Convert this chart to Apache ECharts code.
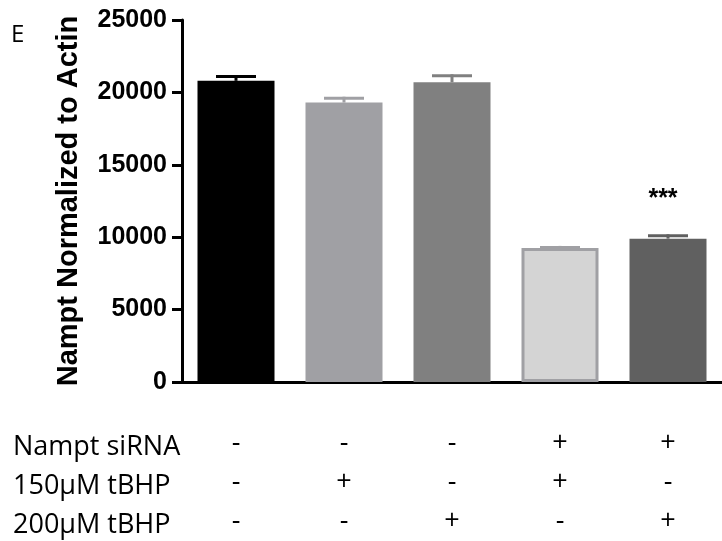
<html>
  <head>
    <meta charset="utf-8" />
    <title>Nampt</title>
    <script src="https://cdn.jsdelivr.net/npm/echarts@6/dist/echarts.min.js"></script>
  </head>
  <body style="margin:0">
    <div id="main" style="width:722px;height:541px;"></div>
    <script type="text/javascript">
      // groups / values
      var groups = ['ctrl', '150 tBHP', '200 tBHP', 'si + 150 tBHP', 'si + 200 tBHP'];
      var means = [20800, 19300, 20700, 9250, 9900];
      var sem = [400, 400, 550, 150, 300];
      var stars = ['', '', '', '', '***'];
      var barColors = ['#000000', '#a0a0a4', '#808080', '#d4d4d4', '#606060'];
      var errColors = ['#000000', '#a0a0a4', '#808080', '#a0a0a4', '#606060'];
      // treatment table under the axis
      var rowNames = ['Nampt siRNA', '150µM tBHP', '200µM tBHP'];
      var siRNA = ['-', '-', '-', '+', '+'];
      var tbhp150 = ['-', '+', '-', '+', '-'];
      var tbhp200 = ['-', '-', '+', '-', '+'];

      var myChart = echarts.init(document.getElementById('main'));

      var barData = means.map(function (m, i) {
        var item = { value: m, itemStyle: { color: barColors[i] } };
        if (i === 3) {
          item.itemStyle.borderColor = '#a0a0a4';
          item.itemStyle.borderWidth = 3;
        }
        return item;
      });

      var option = {
        animation: false,
        title: [
          {
            text: 'E', left: 11, top: 23, padding: 0,
            textStyle: { fontFamily: 'Open Sans', fontWeight: 'normal', fontSize: 24, color: '#000' }
          },
          {
            text: rowNames.join('\n'), left: 13, top: 428, padding: 0,
            textStyle: { fontFamily: 'Open Sans', fontWeight: 'normal', fontSize: 27, lineHeight: 39, color: '#000' }
          }
        ],
        grid: { left: 182, top: 20, width: 544, height: 362 },
        xAxis: {
          type: 'category',
          data: groups,
          axisLine: { lineStyle: { color: '#000', width: 3 } },
          axisTick: { alignWithLabel: true, length: 13, lineStyle: { color: '#000', width: 3 } },
          axisLabel: {
            interval: 0,
            margin: 42,
            color: '#000',
            fontFamily: 'Open Sans',
            fontSize: 27,
            lineHeight: 39,
            formatter: function (v, i) {
              return [siRNA[i], tbhp150[i], tbhp200[i]].join('\n');
            }
          }
        },
        yAxis: {
          type: 'value',
          min: 0,
          max: 25000,
          interval: 5000,
          name: 'Nampt Normalized to Actin',
          nameLocation: 'middle',
          nameRotate: 90,
          nameGap: 99,
          nameTextStyle: { fontFamily: 'Liberation Sans', fontWeight: 'bold', fontSize: 29, color: '#000' },
          axisLine: { show: true, lineStyle: { color: '#000', width: 3 } },
          axisTick: { show: true, length: 10, lineStyle: { color: '#000', width: 3 } },
          axisLabel: {
            margin: 15, color: '#000', fontFamily: 'Liberation Sans', fontWeight: 'bold', fontSize: 25,
            formatter: function (v) { return String(v); }
          },
          splitLine: { show: false }
        },
        series: [
          {
            type: 'bar',
            barWidth: 77,
            data: barData
          },
          {
            type: 'custom',
            z: 3,
            data: means.map(function (m, i) { return [i, m, sem[i]]; }),
            renderItem: function (params, api) {
              var i = api.value(0);
              var base = api.coord([i, api.value(1)]);
              var top = api.coord([i, api.value(1) + api.value(2)]);
              var c = errColors[i];
              return {
                type: 'group',
                children: [
                  { type: 'line', shape: { x1: base[0], y1: base[1], x2: top[0], y2: top[1] }, style: { stroke: c, lineWidth: 3 } },
                  { type: 'line', shape: { x1: top[0] - 20, y1: top[1] + 1.5, x2: top[0] + 20, y2: top[1] + 1.5 }, style: { stroke: c, lineWidth: 3 } },
                  {
                    type: 'text',
                    style: {
                      x: top[0] - 5, y: top[1] - 35, text: stars[i],
                      align: 'center', verticalAlign: 'middle',
                      font: 'bold 25px "Liberation Sans"', fill: '#000'
                    }
                  }
                ]
              };
            }
          }
        ]
      };

      myChart.setOption(option);
    </script>
  </body>
</html>
